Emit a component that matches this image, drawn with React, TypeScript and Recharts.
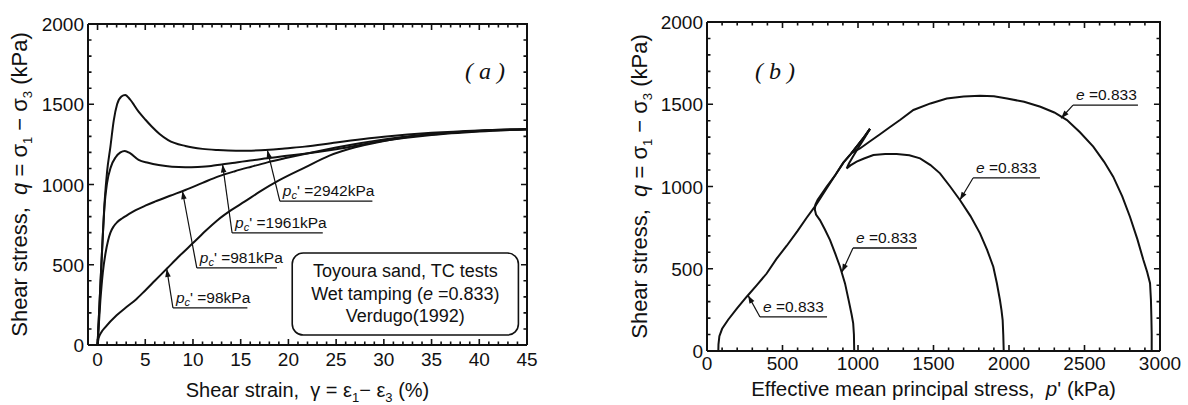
import React from 'react';
import { LineChart, Line, XAxis, YAxis, ReferenceLine, ReferenceArea, ReferenceDot } from 'recharts';

const SANS = 'Arial, "Liberation Sans", Helvetica, sans-serif';
const SERIF = '"Times New Roman", "Liberation Serif", serif';
const INK = '#111';

// (a) stress-strain curves: shear strain (%) vs q (kPa)
const strain2942 = [0, 0.2, 0.45, 0.75, 1.0, 1.35, 1.7, 2.05, 2.5, 2.9, 3.4, 4.3, 5.0, 5.7, 6.5, 7.4, 9.2, 11, 12.6, 14.5, 16.1, 18, 19.6, 21.7, 25, 30, 35, 40, 45];
const q2942 = [0, 250, 560, 900, 1080, 1236, 1400, 1500, 1548, 1558, 1530, 1454, 1405, 1360, 1315, 1277, 1240, 1222, 1215, 1211, 1211, 1216, 1225, 1236, 1262, 1297, 1322, 1337, 1345];

const strain1961 = [0, 0.2, 0.45, 0.75, 1.0, 1.4, 1.9, 2.4, 2.85, 3.4, 4.3, 5.3, 6.4, 7.8, 9.2, 10.5, 11.9, 13, 14.4, 16, 17.8, 19.6, 21.7, 25, 30, 35, 40, 45];
const q1961 = [0, 250, 560, 880, 1010, 1110, 1170, 1200, 1209, 1195, 1153, 1135, 1121, 1110, 1107, 1109, 1115, 1125, 1136, 1150, 1163, 1177, 1192, 1220, 1272, 1308, 1330, 1345];

const strain981 = [0, 0.3, 0.55, 0.83, 1.1, 1.35, 1.7, 2.05, 2.6, 3, 4, 5, 6, 7.6, 9.2, 11, 12.6, 14.4, 16.1, 17.8, 19.6, 21.7, 25, 30, 35, 40, 45];
const q981 = [0, 280, 450, 570, 650, 700, 740, 765, 790, 805, 840, 868, 893, 930, 966, 1010, 1049, 1083, 1111, 1138, 1163, 1190, 1230, 1280, 1314, 1334, 1345];

const strain98 = [0, 0.1, 0.4, 0.8, 2, 3, 4, 5, 6, 7.3, 8.6, 10, 11.3, 12.6, 14, 15.4, 17, 19, 21.7, 24.3, 27, 29.5, 33, 36.4, 40, 45];
const q98 = [0, 40, 80, 110, 185, 235, 282, 340, 400, 478, 556, 635, 710, 779, 840, 893, 955, 1025, 1105, 1180, 1232, 1265, 1300, 1320, 1335, 1345];

// (b) effective stress paths: p' (kPa) vs q (kPa)
const pPath98 = [75, 76, 82, 100, 140, 200, 263, 330, 395, 460, 528, 600, 660, 720, 793, 850, 903, 950, 991, 1040, 1079];
const qPath98 = [0, 40, 90, 135, 190, 260, 330, 400, 471, 560, 640, 730, 810, 885, 990, 1070, 1145, 1195, 1242, 1300, 1350];

const pPath981 = [975, 973, 968, 958, 940, 914, 881, 850, 815, 780, 748, 722, 714, 718, 733, 760, 793, 850, 903, 950, 991, 1040, 1079];
const qPath981 = [0, 100, 170, 220, 300, 411, 512, 590, 674, 740, 796, 830, 860, 890, 920, 955, 999, 1070, 1145, 1195, 1242, 1300, 1350];

const pPath1961 = [1965, 1962, 1958, 1950, 1940, 1920, 1896, 1855, 1808, 1745, 1675, 1610, 1543, 1480, 1411, 1340, 1256, 1180, 1102, 1040, 991, 950, 925, 940, 965, 995, 1040, 1079];
const qPath1961 = [0, 100, 188, 250, 310, 410, 512, 615, 715, 820, 918, 1000, 1080, 1130, 1171, 1190, 1198, 1198, 1191, 1170, 1151, 1128, 1110, 1140, 1180, 1225, 1290, 1350];

const pPath2942 = [2945, 2945, 2943, 2940, 2934, 2915, 2890, 2850, 2801, 2750, 2690, 2630, 2558, 2470, 2384, 2300, 2208, 2100, 1987, 1900, 1808, 1700, 1588, 1480, 1367, 1278, 1210, 1146, 1080, 1013, 960, 985, 1020, 1050, 1079];
const qPath2942 = [0, 100, 200, 310, 412, 480, 553, 680, 816, 940, 1060, 1150, 1242, 1330, 1404, 1450, 1485, 1515, 1535, 1548, 1552, 1547, 1535, 1505, 1465, 1404, 1360, 1318, 1275, 1231, 1205, 1235, 1275, 1310, 1350];

const strainTicks = Array.from({ length: 46 }, (_, i) => i);
const stressTicks = Array.from({ length: 21 }, (_, i) => i * 100);
const pTicks = Array.from({ length: 31 }, (_, i) => i * 100);

const zip = (xs: number[], ys: number[]) => xs.map((x, i) => ({ x, y: ys[i] }));

// inward tick marks as broken polylines (null = pen up), drawn through the chart scales
const xMarks = (ticks: number[], major: number, big: number, small: number) =>
  ticks.flatMap((v) => {
    const len = v % major === 0 ? big : small;
    return [
      { x: v, y: 0 }, { x: v, y: len }, { x: v, y: null },
      { x: v, y: 2000 }, { x: v, y: 2000 - len }, { x: v, y: null },
    ];
  });
const yMarks = (x0: number, x1: number, big: number, small: number) =>
  stressTicks.flatMap((v) => {
    const len = v % 500 === 0 ? big : small;
    return [
      { x: x0, y: v }, { x: x0 + len, y: v }, { x: x0, y: null },
      { x: x1, y: v }, { x: x1 - len, y: v }, { x: x1, y: null },
    ];
  });
const frameEdges = (x0: number, x1: number) => [
  { x: x0, y: 2000 }, { x: x1, y: 2000 }, { x: x1, y: 0 },
];

// axis numbers only on the major ticks
const bottomLabel = (major: number, dy: number) => (props: any) => {
  const { x, y, payload } = props;
  if (payload.value % major !== 0) return <g />;
  return (
    <text x={x} y={y + dy} textAnchor="middle" fontSize={19} fill={INK} fontFamily={SANS}>
      {payload.value}
    </text>
  );
};
const leftLabel = (props: any) => {
  const { x, y, payload } = props;
  if (payload.value % 500 !== 0) return <g />;
  return (
    <text x={x - 4} y={y + 7} textAnchor="end" fontSize={19} fill={INK} fontFamily={SANS}>
      {payload.value}
    </text>
  );
};

const sub = (s: string) => [
  <tspan key="s" dy={5} fontSize={13}>{s}</tspan>,
];

const yTitle = (dx: number) => (props: any) => {
  const vb = props.viewBox;
  const cx = vb.x + dx;
  const cy = vb.y + vb.height / 2;
  return (
    <text transform={`rotate(-90 ${cx} ${cy})`} x={cx} y={cy + 7} textAnchor="middle" fontSize={22} fill={INK} fontFamily={SANS} style={{ whiteSpace: 'pre' }}>
      {'Shear stress,  '}<tspan fontStyle="italic">q</tspan>{' = σ'}{sub('1')}<tspan dy={-5}>{' − σ'}</tspan>{sub('3')}<tspan dy={-5}>{' (kPa)'}</tspan>
    </text>
  );
};

const xTitleA = (props: any) => {
  const vb = props.viewBox;
  return (
    <text x={vb.x + vb.width / 2} y={vb.y + 52} textAnchor="middle" fontSize={20} fill={INK} fontFamily={SANS} style={{ whiteSpace: 'pre' }}>
      {'Shear strain,  γ = ε'}{sub('1')}<tspan dy={-5}>{'− ε'}</tspan>{sub('3')}<tspan dy={-5}>{' (%)'}</tspan>
    </text>
  );
};

const xTitleB = (props: any) => {
  const vb = props.viewBox;
  return (
    <text x={vb.x + vb.width / 2} y={vb.y + 45} textAnchor="middle" fontSize={20.5} fill={INK} fontFamily={SANS} style={{ whiteSpace: 'pre' }}>
      {'Effective mean principal stress,  '}<tspan fontStyle="italic">p</tspan>{"' (kPa)"}
    </text>
  );
};

const arrow = (p: any) => {
  const { x1, y1, x2, y2 } = p;
  const a = Math.atan2(y2 - y1, x2 - x1);
  const L = 8;
  const W = 2.8;
  const bx = x2 - L * Math.cos(a);
  const by = y2 - L * Math.sin(a);
  const pts = `${x2},${y2} ${bx - W * Math.sin(a)},${by + W * Math.cos(a)} ${bx + W * Math.sin(a)},${by - W * Math.cos(a)}`;
  return (
    <g>
      <line x1={x1} y1={y1} x2={x2} y2={y2} stroke={INK} strokeWidth={1.2} />
      <polygon points={pts} fill={INK} />
    </g>
  );
};

const tag = (label: React.ReactNode) => (p: any) => (
  <g>
    <line x1={p.x1} y1={p.y1} x2={p.x2} y2={p.y2} stroke={INK} strokeWidth={1.3} />
    <text x={Math.min(p.x1, p.x2) + 3} y={p.y1 - 5} fontSize={15.5} fill={INK} fontFamily={SANS} style={{ whiteSpace: 'pre' }}>
      {label}
    </text>
  </g>
);

const pcLabel = (v: string) => (
  <>
    <tspan fontStyle="italic">p</tspan>
    <tspan fontStyle="italic" fontSize={11} dy={3}>c</tspan>
    <tspan dy={-3}>{`' =${v}kPa`}</tspan>
  </>
);
const eLabel = (
  <>
    <tspan fontStyle="italic">e</tspan>
    <tspan>{' =0.833'}</tspan>
  </>
);

const noteBox = (p: any) => {
  const cx = p.x + p.width / 2;
  const common = { textAnchor: 'middle' as const, fontSize: 18, fill: INK, fontFamily: SANS };
  return (
    <g>
      <rect x={p.x} y={p.y} width={p.width} height={p.height} rx={11} ry={11} fill="none" stroke={INK} strokeWidth={1.6} />
      <text x={cx} y={p.y + 24} {...common}>Toyoura sand, TC tests</text>
      <text x={cx} y={p.y + 47} {...common}>
        {'Wet tamping ('}<tspan fontStyle="italic">e</tspan>{' =0.833)'}
      </text>
      <text x={cx} y={p.y + 69} {...common}>Verdugo(1992)</text>
    </g>
  );
};

const panelTag = (letter: string) => (p: any) => (
  <text x={p.cx} y={p.cy + 7} textAnchor="middle" fontSize={24} fill={INK} fontFamily={SERIF} fontStyle="italic" style={{ whiteSpace: 'pre' }}>
    {`( ${letter} )`}
  </text>
);

const axisLine = { stroke: INK, strokeWidth: 2 };

const curve = (data: any[], key: string, type: 'monotone' | 'linear', width = 2) => (
  <Line
    key={key}
    data={data}
    dataKey="y"
    type={type}
    stroke={INK}
    strokeWidth={width}
    dot={false}
    activeDot={false}
    isAnimationActive={false}
  />
);

const App = () => {
  return (
    <div style={{ position: 'absolute', left: 0, top: 0, width: 1188, height: 405, background: '#fff', fontFamily: SANS }}>
      <div style={{ position: 'absolute', left: 0, top: 0 }}>
        <LineChart width={560} height={405} margin={{ top: 24, right: 33, bottom: 30, left: 28 }}>
          <XAxis dataKey="x" type="number" domain={[-1, 45]} ticks={strainTicks} interval={0} height={30} tickSize={0} tickMargin={0} tickLine={false} axisLine={axisLine} tick={bottomLabel(5, 21)} label={xTitleA} />
          <YAxis type="number" domain={[0, 2000]} ticks={stressTicks} interval={0} width={60} tickSize={0} tickMargin={0} tickLine={false} axisLine={axisLine} tick={leftLabel} label={yTitle(-8)} />

          {curve(frameEdges(-1, 45), 'aframe', 'linear', 2)}
          {curve(xMarks(strainTicks, 5, 37, 22), 'axmarks', 'linear', 1.6)}
          {curve(yMarks(-1, 45, 0.63, 0.37), 'aymarks', 'linear', 1.6)}

          {curve(zip(strain2942, q2942), 'a2942', 'monotone')}
          {curve(zip(strain1961, q1961), 'a1961', 'monotone')}
          {curve(zip(strain981, q981), 'a981', 'monotone')}
          {curve(zip(strain98, q98), 'a98', 'monotone')}

          <ReferenceLine ifOverflow="visible" segment={[{ x: 19.1, y: 897 }, { x: 28.8, y: 897 }]} shape={tag(pcLabel('2942'))} />
          <ReferenceLine ifOverflow="visible" segment={[{ x: 19.1, y: 897 }, { x: 17.8, y: 1213 }]} shape={arrow} />
          <ReferenceLine ifOverflow="visible" segment={[{ x: 14.1, y: 698 }, { x: 23.6, y: 698 }]} shape={tag(pcLabel('1961'))} />
          <ReferenceLine ifOverflow="visible" segment={[{ x: 14.1, y: 698 }, { x: 13.1, y: 1125 }]} shape={arrow} />
          <ReferenceLine ifOverflow="visible" segment={[{ x: 10.4, y: 480 }, { x: 18.8, y: 480 }]} shape={tag(pcLabel('981'))} />
          <ReferenceLine ifOverflow="visible" segment={[{ x: 10.4, y: 480 }, { x: 8.9, y: 958 }]} shape={arrow} />
          <ReferenceLine ifOverflow="visible" segment={[{ x: 7.9, y: 231 }, { x: 15.7, y: 231 }]} shape={tag(pcLabel('98'))} />
          <ReferenceLine ifOverflow="visible" segment={[{ x: 7.9, y: 231 }, { x: 7.25, y: 474 }]} shape={arrow} />

          <ReferenceArea ifOverflow="visible" x1={20.4} x2={44.1} y1={62} y2={573} shape={noteBox} />
          <ReferenceDot ifOverflow="visible" x={40.6} y={1700} r={1} shape={panelTag('a')} />
        </LineChart>
      </div>

      <div style={{ position: 'absolute', left: 600, top: 0 }}>
        <LineChart width={588} height={405} margin={{ top: 22, right: 28, bottom: 24, left: 47 }}>
          <XAxis dataKey="x" type="number" domain={[0, 3000]} ticks={pTicks} interval={0} height={30} tickSize={0} tickMargin={0} tickLine={false} axisLine={axisLine} tick={bottomLabel(500, 19)} label={xTitleB} />
          <YAxis type="number" domain={[0, 2000]} ticks={stressTicks} interval={0} width={60} tickSize={0} tickMargin={0} tickLine={false} axisLine={axisLine} tick={leftLabel} label={yTitle(-7)} />

          {curve(frameEdges(0, 3000), 'bframe', 'linear', 2)}
          {curve(xMarks(pTicks, 500, 36, 21), 'bxmarks', 'linear', 1.6)}
          {curve(yMarks(0, 3000, 40, 23), 'bymarks', 'linear', 1.6)}

          {curve(zip(pPath98, qPath98), 'b98', 'linear')}
          {curve(zip(pPath981, qPath981), 'b981', 'linear')}
          {curve(zip(pPath1961, qPath1961), 'b1961', 'linear')}
          {curve(zip(pPath2942, qPath2942), 'b2942', 'linear')}

          <ReferenceLine ifOverflow="visible" segment={[{ x: 351, y: 207 }, { x: 795, y: 207 }]} shape={tag(eLabel)} />
          <ReferenceLine ifOverflow="visible" segment={[{ x: 351, y: 207 }, { x: 272, y: 338 }]} shape={arrow} />
          <ReferenceLine ifOverflow="visible" segment={[{ x: 967, y: 626 }, { x: 1391, y: 626 }]} shape={tag(eLabel)} />
          <ReferenceLine ifOverflow="visible" segment={[{ x: 967, y: 626 }, { x: 894, y: 480 }]} shape={arrow} />
          <ReferenceLine ifOverflow="visible" segment={[{ x: 1762, y: 1052 }, { x: 2205, y: 1052 }]} shape={tag(eLabel)} />
          <ReferenceLine ifOverflow="visible" segment={[{ x: 1762, y: 1052 }, { x: 1675, y: 918 }]} shape={arrow} />
          <ReferenceLine ifOverflow="visible" segment={[{ x: 2424, y: 1495 }, { x: 2854, y: 1495 }]} shape={tag(eLabel)} />
          <ReferenceLine ifOverflow="visible" segment={[{ x: 2424, y: 1495 }, { x: 2345, y: 1415 }]} shape={arrow} />

          <ReferenceDot ifOverflow="visible" x={450} y={1696} r={1} shape={panelTag('b')} />
        </LineChart>
      </div>
    </div>
  );
};

export default App;
